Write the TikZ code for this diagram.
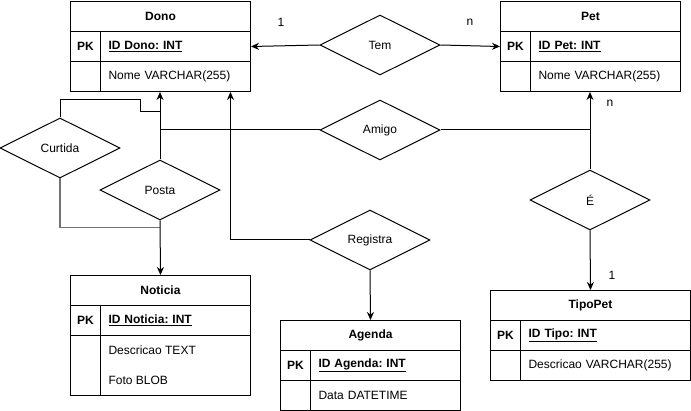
\documentclass[tikz,border=0pt]{standalone}
\usepackage{fontspec}
\setmainfont{Liberation Sans}
\usetikzlibrary{arrows.meta,shapes.geometric,calc}
\frenchspacing

\begin{document}
\begin{tikzpicture}[x=1pt,y=-1pt,line width=1pt,
			>={Stealth[length=8pt,width=7pt]},
			every node/.style={
				font=\fontsize{12}{14}\selectfont,
				inner sep=0pt
			},
			cell/.style={
				draw,
				anchor=north west,
				minimum height=30pt
			},
			head/.style={
				cell,
				font=\fontsize{12}{14}\selectfont\bfseries
			},
			field/.style={
				cell,
				inner xsep=8pt,
				align=left
			},
			attr/.style={
				anchor=west
			},
			rel/.style={
				draw,
				diamond,
				aspect=2,
				minimum width=120pt,
				minimum height=60pt
			},
			card/.style={
				font=\fontsize{12}{14}\selectfont
			}]
			
			\useasboundingbox (0,0) rectangle (691,411);
			
			% Dono
			\node[head,minimum width=180pt] (donoH) at (70,1) {Dono};
			\node[head,minimum width=30pt] (donoPK) at (70,31) {PK};
			\node[field,head,text width=134pt] (donoID) at (100,31) {\underline{ID Dono: INT}};
			\node[cell,minimum width=30pt] (donoB) at (70,61) {};
			\node[field,text width=134pt] (donoAt) at (100,61) {Nome VARCHAR(255)};
			
			% Pet
			\node[head,minimum width=180pt] (petH) at (500,1) {Pet};
			\node[head,minimum width=30pt] (petPK) at (500,31) {PK};
			\node[field,head,text width=134pt] (petID) at (530,31) {\underline{ID Pet: INT}};
			\node[cell,minimum width=30pt] (petB) at (500,61) {};
			\node[field,text width=134pt] (petAt) at (530,61) {Nome VARCHAR(255)};
			
			% Noticia
			\node[head,minimum width=180pt] (notH) at (70,275) {Noticia};
			\node[head,minimum width=30pt] (notPK) at (70,305) {PK};
			\node[field,head,text width=134pt] (notID) at (100,305) {\underline{ID Noticia: INT}};
			\node[cell,minimum width=30pt,minimum height=60pt] (notB) at (70,335) {};
			\node[cell,minimum width=150pt,minimum height=60pt] (notAt) at (100,335) {};
			\node[attr] (notDesc) at (108,350) {Descricao TEXT};
			\node[attr] (notFoto) at (108,380) {Foto BLOB};
			
			% Agenda
			\node[head,minimum width=180pt] (agH) at (280,320) {Agenda};
			\node[head,minimum width=30pt] (agPK) at (280,350) {PK};
			\node[field,head,text width=134pt] (agID) at (310,350) {\underline{ID Agenda: INT}};
			\node[cell,minimum width=30pt] (agB) at (280,380) {};
			\node[field,text width=134pt] (agAt) at (310,380) {Data DATETIME};
			
			% TipoPet
			\node[head,minimum width=200pt] (tipoH) at (490,290) {TipoPet};
			\node[head,minimum width=30pt] (tipoPK) at (490,320) {PK};
			\node[field,head,text width=154pt] (tipoID) at (520,320) {\underline{ID Tipo: INT}};
			\node[cell,minimum width=30pt] (tipoB) at (490,350) {};
			\node[field,text width=154pt] (tipoAt) at (520,350) {Descricao VARCHAR(255)};
			
			% relacionamentos
			\node[rel] (tem) at (380,45) {Tem};
			\node[rel] (amigo) at (380,130) {Amigo};
			\node[rel] (curtida) at (60,148) {Curtida};
			\node[rel] (posta) at (160,190) {Posta};
			\node[rel] (registra) at (370,240) {Registra};
			\node[rel] (e) at (590,200) {É};
			
			\node[card] (temUm) at (281,22) {1};
			\node[card] (temN) at (470,22) {n};
			\node[card] (petN) at (610,103) {n};
			\node[card] (tipoUm) at (612,275) {1};
			
			\coordinate (curtTop) at ($(posta.north |- donoAt.south)+(0,20)$);
			\coordinate (curtBot) at ($(posta.south)+(0,7)$);
			
			\draw[->](tem.west)--(donoID.east);
			
			\draw[->](tem.east)--(petPK.west);
			
			\draw[->](posta.north)--(posta.north |- donoAt.south);
			
			\draw[->](e.north)--(e.north |- petAt.south);
			
			\draw(amigo.west)--(amigo.west -| posta.north);
			
			\draw(amigo.east)--(amigo.east -| e.north);
			
			\draw(curtida.north)|-($(curtTop)+(-20,-12)$)|-(curtTop);
			
			\draw[black!55,line width=1.6pt](curtida.south)|-(curtBot);
			
			\draw[->](posta.south)--(notH.north);
			
			\draw[->](registra.west)-|($(donoAt.south)+(55,0)$);
			
			\draw[->](registra.south)--(agH.north);
			
			\draw[->](e.south)--(tipoH.north);
			
		\end{tikzpicture}
\end{document}
